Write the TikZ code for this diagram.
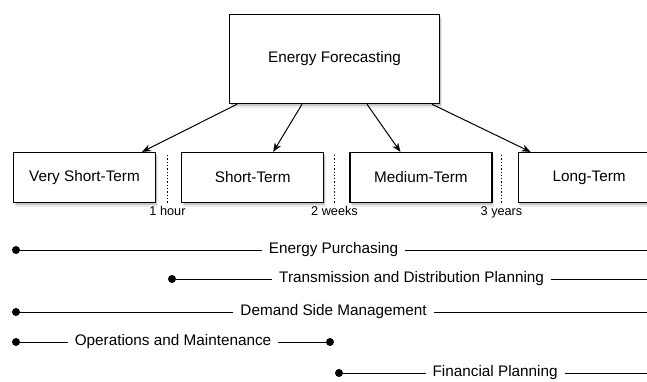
\documentclass[tikz,border=0pt]{standalone}
\usepackage{fontspec}
\setmainfont{Liberation Sans}
\usetikzlibrary{positioning,shadows,arrows.meta}

\begin{document}
\begin{tikzpicture}[%
    x=1pt, y=1pt,
    >={Stealth[length=9pt,width=7pt]},  % filled arrow heads
    node distance=25pt,                 % gap between the term boxes
    ]
% -------------------------------------------------
% Box, divider and timeline styles
\tikzset{
  base/.style={draw, fill=white, line width=1.2pt, align=center,
    font=\fontsize{15.3}{18}\selectfont,
    drop shadow={shadow xshift=2pt, shadow yshift=-4.5pt, opacity=.15},
    drop shadow={shadow xshift=1pt, shadow yshift=-2.5pt, opacity=.35}},
  headbox/.style={base, line width=1.5pt, minimum width=210pt, minimum height=89pt},
  termbox/.style={base, minimum width=142pt, minimum height=50pt},
  divider/.style={dotted, line width=1.3pt},
  horizon/.style={font=\fontsize{12.7}{14}\selectfont, anchor=north, inner sep=3pt},
  enddot/.style={circle, fill=black, inner sep=0pt, minimum size=8pt},
  tline/.style={draw, line width=1pt},
  it/.style={fill=white, inner xsep=7pt, font=\fontsize{15.3}{18}\selectfont}
}
\useasboundingbox (0,0) rectangle (647,-381);
% -------------------------------------------------
% Forecasting horizons
\node [headbox] (ef) at (334.5,-59) {Energy Forecasting};
\node [termbox] (vst) at (84.5,-177.5) {Very Short-Term};
\node [termbox, right=of vst] (st) {Short-Term};
\node [termbox, right=of st] (mt) {Medium-Term};
\node [termbox, right=of mt] (lt) {Long-Term};

\draw [->, line width=1pt] ([xshift=-97.5pt]ef.south) -- ([xshift=57.5pt]vst.north);
\draw [->, line width=1pt] ([xshift=-32.5pt]ef.south) -- ([xshift=20.5pt]st.north);
\draw [->, line width=1pt] ([xshift=32.5pt]ef.south) -- ([xshift=-20.5pt]mt.north);
\draw [->, line width=1pt] ([xshift=97.5pt]ef.south) -- ([xshift=-58.5pt]lt.north);

% dotted borders between the horizons
\coordinate (d1) at (167.5,-155); \coordinate (d1e) at (167.5,-203);
\coordinate (d2) at (334.5,-155); \coordinate (d2e) at (334.5,-203);
\coordinate (d3) at (501.5,-155); \coordinate (d3e) at (501.5,-203);
\draw [divider] (d1) -- (d1e) node [horizon] {1 hour};
\draw [divider] (d2) -- (d2e) node [horizon] {2 weeks};
\draw [divider] (d3) -- (d3e) node [horizon] {3 years};

% -------------------------------------------------
% Applications and the horizons they span
\node [enddot] (ep-a) at (16,-250) {};
\coordinate (ep-b) at (647,-250);
\draw [tline] (ep-a) -- node [it] {Energy Purchasing} (ep-b);

\node [enddot] (td-a) at (172,-279) {};
\coordinate (td-b) at (647,-279);
\draw [tline] (td-a) -- node [it] {Transmission and Distribution Planning} (td-b);

\node [enddot] (dsm-a) at (16,-312) {};
\coordinate (dsm-b) at (647,-312);
\draw [tline] (dsm-a) -- node [it] {Demand Side Management} (dsm-b);

\node [enddot] (om-a) at (16,-342) {};
\node [enddot] (om-b) at (330,-342) {};
\draw [tline] (om-a) -- node [it] {Operations and Maintenance} (om-b);

\node [enddot] (fp-a) at (339,-373) {};
\coordinate (fp-b) at (647,-373);
\draw [tline] (fp-a) -- node [it] {Financial Planning} (fp-b);
% -------------------------------------------------
\end{tikzpicture}
\end{document}
